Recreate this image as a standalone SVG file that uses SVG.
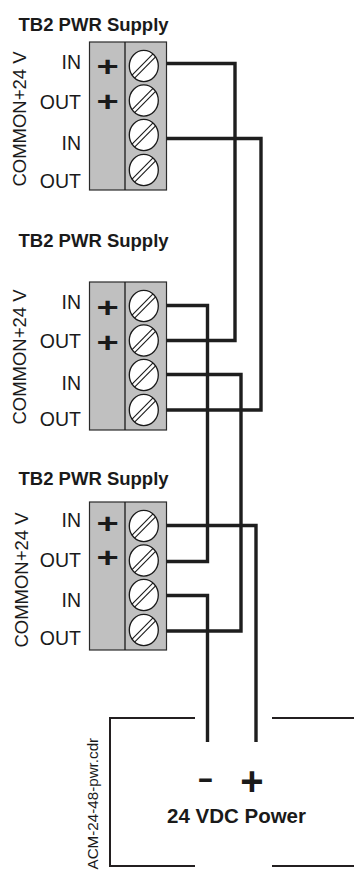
<svg xmlns="http://www.w3.org/2000/svg" xmlns:xlink="http://www.w3.org/1999/xlink" width="354" height="871" viewBox="0 0 354 871">
<defs>
<style>
text{font-family:"Liberation Sans",Arial,sans-serif;fill:#1a1a1a}
.title{font-size:18.5px;font-weight:bold}
.lbl{font-size:19.5px;text-anchor:end}
.rot{font-size:18.5px;text-anchor:middle}
.plus{font-size:34px;font-weight:bold;text-anchor:middle}
.blk{fill:#c0c0c0;stroke:#2a2a2a;stroke-width:1.2}
.wire{fill:none;stroke:#1e1e1e;stroke-width:3.4;stroke-linejoin:miter}
.box{fill:none;stroke:#231f20;stroke-width:2}
</style>
<g id="screw">
<ellipse cx="0" cy="0" rx="14.5" ry="15.6" fill="#fff" stroke="#1a1a1a" stroke-width="1.3"/>
<line x1="-9.2" y1="12.2" x2="12" y2="-9.4" stroke="#1a1a1a" stroke-width="1.1"/>
<line x1="-12" y1="9.4" x2="9.2" y2="-12.2" stroke="#1a1a1a" stroke-width="1.1"/>
</g>
</defs>
<rect width="354" height="871" fill="#fff"/>

<g id="tb1">
<text class="title" x="18.5" y="31">TB2 PWR Supply</text>
<text class="rot" transform="translate(26,119) rotate(-90)">COMMON+24 V</text>
<text class="lbl" x="81" y="69">IN</text>
<text class="lbl" x="81" y="108.5">OUT</text>
<text class="lbl" x="81" y="150">IN</text>
<text class="lbl" x="81" y="188">OUT</text>
<rect class="blk" x="89.5" y="42" width="77" height="148"/>
<line x1="125" y1="42" x2="125" y2="190" stroke="#1a1a1a" stroke-width="1.3"/>
<text class="plus" transform="translate(107.5,66) scale(1.12,0.82)" y="12">+</text>
<text class="plus" transform="translate(107.5,101.5) scale(1.12,0.82)" y="12">+</text>
<use xlink:href="#screw" x="143.8" y="66"/>
<use xlink:href="#screw" x="143.8" y="100.5"/>
<use xlink:href="#screw" x="143.8" y="135"/>
<use xlink:href="#screw" x="143.8" y="170"/>
</g>

<g id="tb2">
<text class="title" x="18.5" y="246.5">TB2 PWR Supply</text>
<text class="rot" transform="translate(26,357) rotate(-90)">COMMON+24 V</text>
<text class="lbl" x="81" y="309">IN</text>
<text class="lbl" x="81" y="348">OUT</text>
<text class="lbl" x="81" y="390">IN</text>
<text class="lbl" x="81" y="426">OUT</text>
<rect class="blk" x="89.5" y="282" width="77" height="148"/>
<line x1="125" y1="282" x2="125" y2="430" stroke="#1a1a1a" stroke-width="1.3"/>
<text class="plus" transform="translate(107.5,307) scale(1.12,0.82)" y="12">+</text>
<text class="plus" transform="translate(107.5,342) scale(1.12,0.82)" y="12">+</text>
<use xlink:href="#screw" x="143.8" y="306"/>
<use xlink:href="#screw" x="143.8" y="340.5"/>
<use xlink:href="#screw" x="143.8" y="375"/>
<use xlink:href="#screw" x="143.8" y="410"/>
</g>

<g id="tb3">
<text class="title" x="18.5" y="484.5">TB2 PWR Supply</text>
<text class="rot" transform="translate(27.5,580) rotate(-90)">COMMON+24 V</text>
<text class="lbl" x="81" y="527">IN</text>
<text class="lbl" x="81" y="567">OUT</text>
<text class="lbl" x="81" y="607">IN</text>
<text class="lbl" x="81" y="645">OUT</text>
<rect class="blk" x="89.5" y="502" width="77" height="148"/>
<line x1="125" y1="502" x2="125" y2="650" stroke="#1a1a1a" stroke-width="1.3"/>
<text class="plus" transform="translate(107.5,523) scale(1.12,0.82)" y="12">+</text>
<text class="plus" transform="translate(107.5,557.5) scale(1.12,0.82)" y="12">+</text>
<use xlink:href="#screw" x="143.8" y="526"/>
<use xlink:href="#screw" x="143.8" y="560.5"/>
<use xlink:href="#screw" x="143.8" y="595"/>
<use xlink:href="#screw" x="143.8" y="630"/>
</g>

<g id="connectors">
<path class="wire" d="M166.5,63.5 H235 V340.5 H166.5"/>
<path class="wire" d="M166.5,138.5 H261 V410 H166.5"/>
<path class="wire" d="M166.5,305.5 H207.5 V561.5 H166.5"/>
<path class="wire" d="M166.5,374.5 H241 V631 H166.5"/>
<path class="wire" d="M166.5,525.5 H256 V742"/>
<path class="wire" d="M166.5,595.5 H207.5 V742"/>
</g>

<g id="power">
<path class="box" d="M195,718 H110 V866 H195"/>
<path class="box" d="M272,718 H354"/>
<path class="box" d="M272,866 H354"/>
<text transform="translate(205.5,780) scale(1.3,0.8)" y="10.5" font-size="38" font-weight="bold" text-anchor="middle">-</text>
<text x="252" y="795" font-size="40" font-weight="bold" text-anchor="middle">+</text>
<text x="236.5" y="823" font-size="20.5" font-weight="bold" text-anchor="middle">24 VDC Power</text>
<text transform="translate(97.7,869.5) rotate(-90)" font-size="15.2">ACM-24-48-pwr.cdr</text>
</g>
</svg>
